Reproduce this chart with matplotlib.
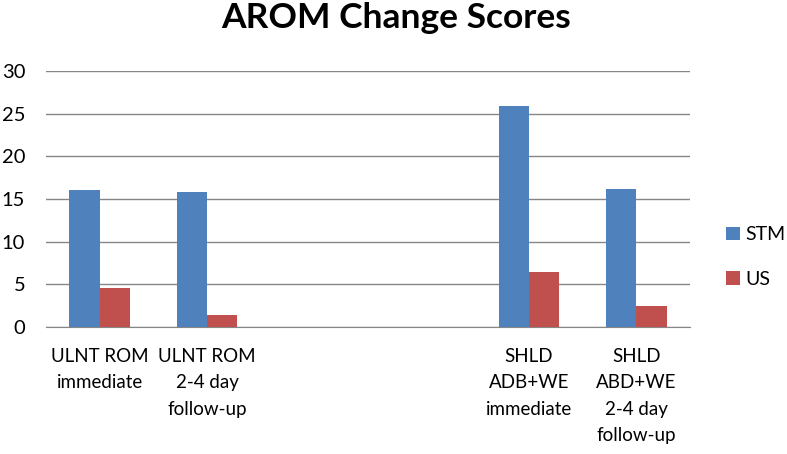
import matplotlib
matplotlib.use("Agg")
import matplotlib.pyplot as plt
import numpy as np

categories = ["ULNT ROM\nimmediate", "ULNT ROM\n2-4 day\nfollow-up", "", "",
              "SHLD\nADB+WE\nimmediate", "SHLD\nABD+WE\n2-4 day\nfollow-up"]
stm = [16.0, 15.8, np.nan, np.nan, 25.9, 16.2]
us = [4.6, 1.4, np.nan, np.nan, 6.5, 2.5]
yticks = [0, 5, 10, 15, 20, 25, 30]

plt.rcParams['font.family'] = ['Lato', 'DejaVu Sans']

fig = plt.figure(figsize=(7.87, 4.54), dpi=100)
ax = fig.add_axes([46/787, 1-327/454, (690-46)/787, (327-71)/454])

x = np.arange(len(categories))
w = 0.284
ax.bar(x - w/2, stm, w, color="#4F81BD", label="STM", zorder=3)
ax.bar(x + w/2, us, w, color="#C0504D", label="US", zorder=3)

ax.set_xlim(-0.5, len(categories) - 0.5)
ax.set_ylim(0, 30)
ax.set_yticks(yticks)
ax.set_yticklabels([str(t) for t in yticks], fontsize=14.5)
ax.set_xticks(x)
ax.set_xticklabels(categories, fontsize=13.5, linespacing=1.68, va="top")
ax.tick_params(axis="both", length=0)
ax.tick_params(axis="x", pad=15)
ax.tick_params(axis="y", pad=15)
ax.grid(axis="y", color="#868686", linewidth=1, zorder=0)
for s in ["top", "right", "left"]:
    ax.spines[s].set_visible(False)
ax.spines["bottom"].set_color("#868686")

fig.text(396/787, 1-18/454, "AROM Change Scores", ha="center", va="center",
         fontsize=25.5, fontweight="bold")

leg = fig.legend(loc="center left", bbox_to_anchor=(726/787, 1-257/454), frameon=False,
                 fontsize=14, handlelength=0.7, handleheight=0.7, labelspacing=1.4,
                 handletextpad=0.3, borderaxespad=0, borderpad=0)

fig.savefig("out.png", dpi=100)
